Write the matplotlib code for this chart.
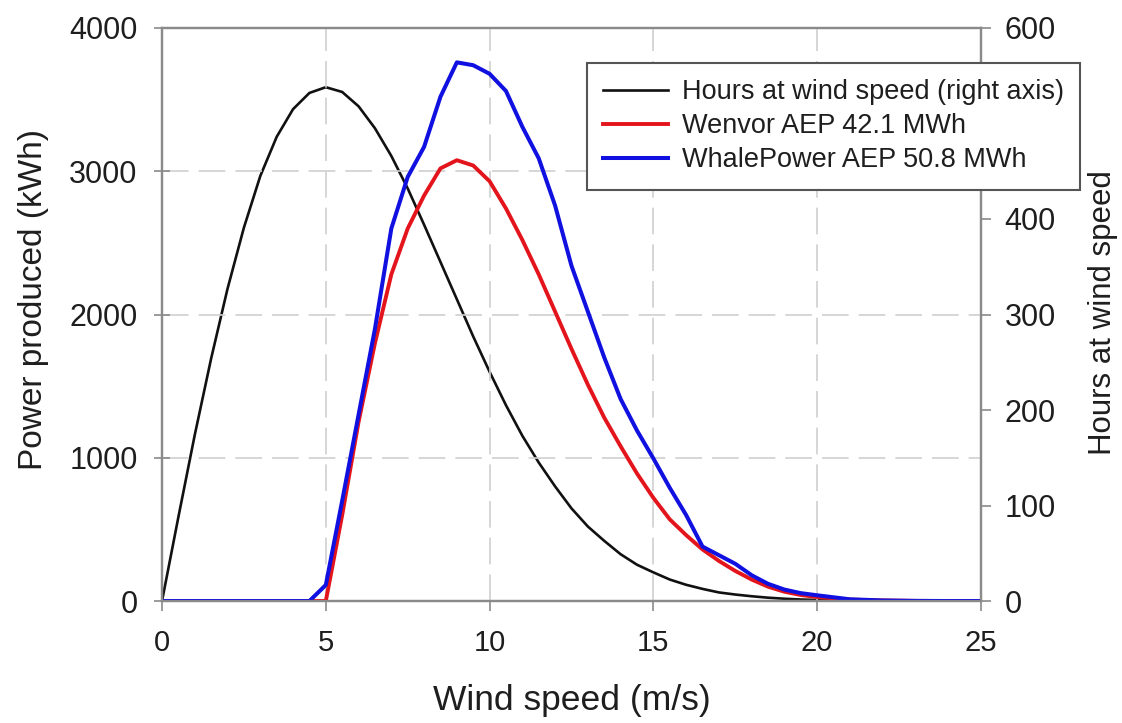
"""Wind turbine energy yield vs wind speed, with hours-at-wind-speed on a twin axis."""
import matplotlib
matplotlib.use("Agg")
import matplotlib.pyplot as plt

# hours at each wind speed (right axis), read at 0.5 m/s steps
hours_ws = [0, 0.5, 1, 1.5, 2, 2.5, 3, 3.5, 4, 4.5, 5, 5.5, 6, 6.5, 7, 7.5, 8, 8.5, 9, 9.5,
            10, 10.5, 11, 11.5, 12, 12.5, 13, 13.5, 14, 14.5, 15, 15.5, 16, 16.5, 17, 17.5,
            18, 18.5, 19, 19.5, 20, 21, 22, 23, 24, 25]
hours = [0, 88, 174, 254, 327, 391, 445, 486, 515, 532, 538, 533, 518, 495, 466, 432, 394, 355,
         316, 277, 240, 205, 173, 145, 120, 97, 78, 63, 49, 38, 30, 22.5, 17, 12.7, 9, 6.8,
         5, 3.5, 2.4, 1.6, 1.1, 0.5, 0.2, 0.1, 0, 0]

# energy produced per wind-speed bin (kWh)
wenvor_ws = [0, 4.5, 5, 5.5, 6, 6.5, 7, 7.5, 8, 8.5, 9, 9.5, 10, 10.5, 11, 11.5, 12, 12.5, 13,
             13.5, 14, 14.5, 15, 15.5, 16, 16.5, 17, 17.5, 18, 18.5, 19, 19.5, 20, 21, 22, 23, 24, 25]
wenvor = [0, 0, 0, 600, 1250, 1800, 2280, 2600, 2830, 3020, 3077, 3040, 2930, 2740, 2520, 2280,
          2020, 1760, 1510, 1280, 1080, 890, 720, 570, 460, 360, 280, 210, 150, 100, 65, 42, 28,
          10, 4, 1, 0, 0]

whale_ws = [0, 4.5, 5, 5.5, 6, 6.5, 7, 7.5, 8, 8.5, 9, 9.5, 10, 10.5, 11, 11.5, 12, 12.5, 13,
            13.5, 14, 14.5, 15, 15.5, 16, 16.5, 17, 17.5, 18, 18.5, 19, 19.5, 20, 21, 22, 23, 24, 25]
whale = [0, 0, 112, 700, 1300, 1900, 2600, 2960, 3170, 3520, 3760, 3740, 3680, 3560, 3310, 3090,
         2760, 2340, 2020, 1700, 1410, 1190, 995, 790, 600, 380, 320, 260, 180, 120, 80, 55, 40,
         12, 4, 1, 0, 0]

labels = ["Hours at wind speed (right axis)", "Wenvor AEP 42.1 MWh", "WhalePower AEP 50.8 MWh"]

plt.rcParams["font.family"] = ["Liberation Sans", "DejaVu Sans"]
spine_c = "#8a8a8a"
txt_c = "#1e1e1e"

fig = plt.figure(figsize=(11.22, 7.23), dpi=100)
fig.subplots_adjust(left=0.1444, right=0.8743, bottom=0.1687, top=0.9613)
ax = fig.add_subplot(111)
ax2 = ax.twinx()
ax.set_zorder(ax2.get_zorder() + 1)   # power lines + legend above the hours curve
ax.patch.set_visible(False)

h_line, = ax2.plot(hours_ws, hours, color="#111111", lw=1.9, solid_joinstyle="round")
r_line, = ax.plot(wenvor_ws, wenvor, color="#e3141b", lw=2.8, solid_joinstyle="round")
b_line, = ax.plot(whale_ws, whale, color="#1010e0", lw=2.9, solid_joinstyle="round")

ax.set_xlim(0, 25); ax.set_ylim(0, 4000)
ax2.set_ylim(0, 600)
ax.set_xticks([0, 5, 10, 15, 20, 25])
ax.set_yticks([0, 1000, 2000, 3000, 4000])
ax2.set_yticks([0, 100, 200, 300, 400, 500, 600])

ax.grid(True, color="#cfcfcf", lw=1.2, dashes=(16, 6))
ax.set_axisbelow(True)

for a in (ax, ax2):
    for s in a.spines.values():
        s.set_color(spine_c); s.set_linewidth(1.6)
ax.tick_params(axis="y", direction="inout", length=11, width=1.2, color=spine_c,
               labelsize=22, pad=12, labelcolor=txt_c)
ax.tick_params(axis="x", direction="out", length=7, width=1.2, color=spine_c,
               labelsize=21, pad=13, labelcolor=txt_c)
ax2.tick_params(axis="y", direction="out", length=7, width=1.2, color=spine_c,
                labelsize=22, pad=10, labelcolor=txt_c)

ax.set_xlabel("Wind speed (m/s)", fontsize=25.5, color=txt_c, va="center")
ax.xaxis.set_label_coords(0.5, -0.173)
ax.set_ylabel("Power produced (kWh)", fontsize=24, color=txt_c, va="center")
ax.yaxis.set_label_coords(-0.1575, 0.527)
ax2.set_ylabel("Hours at wind speed", fontsize=22.5, color=txt_c, va="center")
ax2.yaxis.set_label_coords(1.149, 0.503)

leg = ax.legend([h_line, r_line, b_line], labels, loc="upper left",
                bbox_to_anchor=(0.523, 0.913), bbox_transform=fig.transFigure,
                fontsize=19.5, frameon=True, fancybox=False, framealpha=1,
                edgecolor="#555555", borderaxespad=0, handlelength=2.4,
                handletextpad=0.5, labelspacing=0.3, borderpad=0.6)
leg.get_frame().set_linewidth(1.5)
for t in leg.get_texts():
    t.set_color(txt_c)

fig.savefig("out.png", dpi=100)
